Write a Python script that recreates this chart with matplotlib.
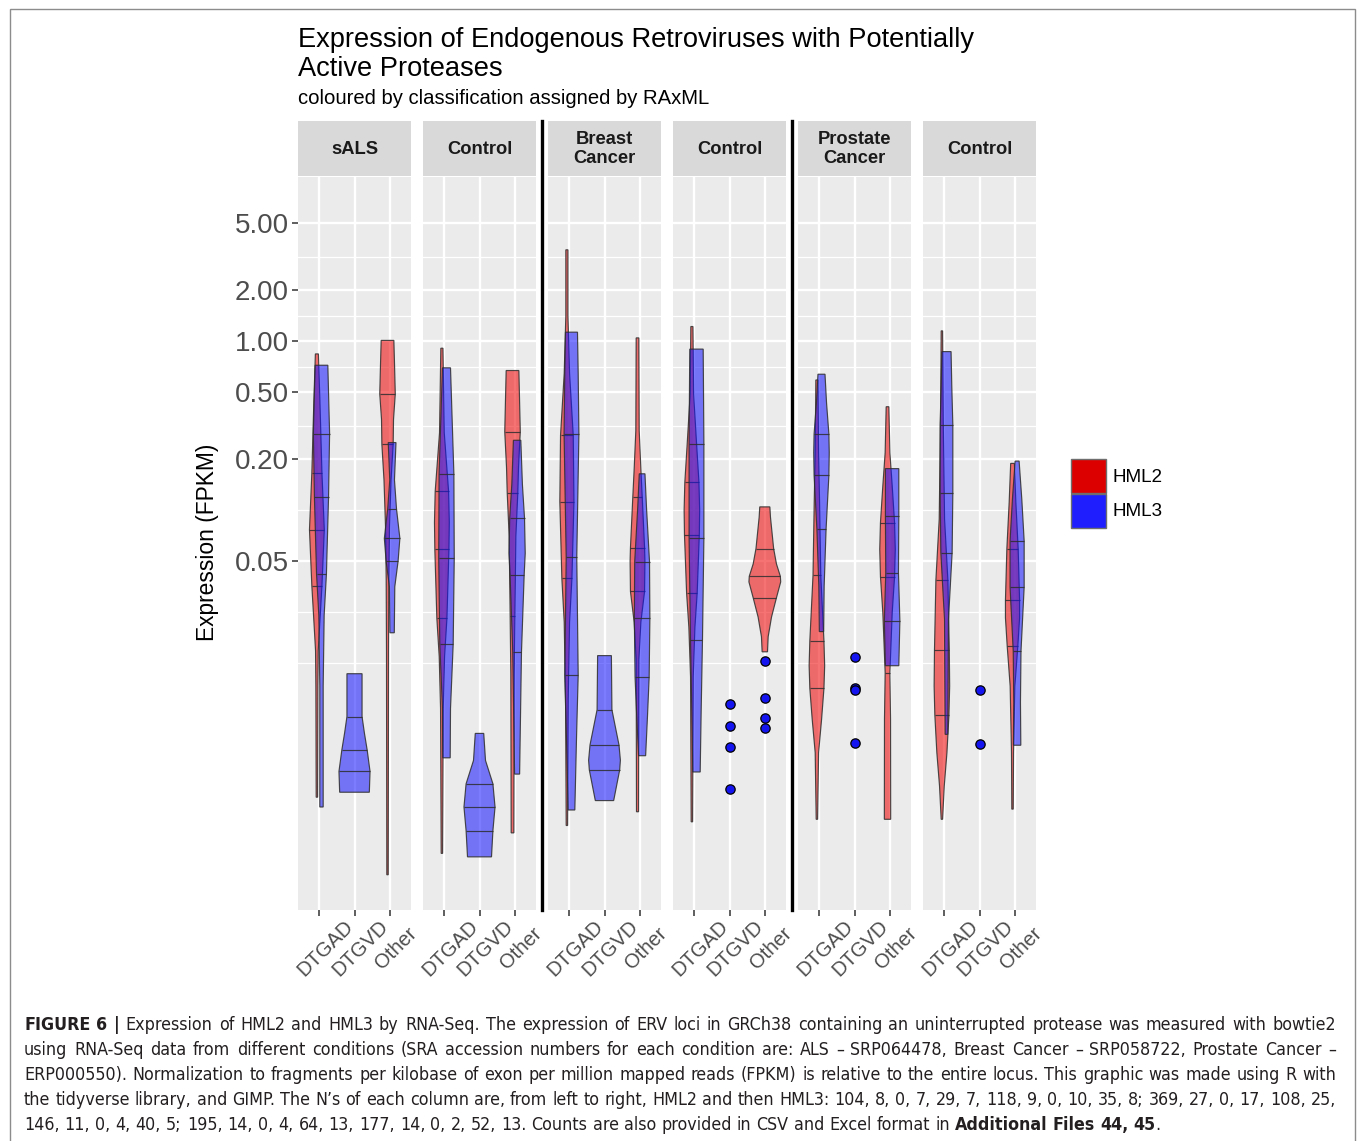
import os
import numpy as np
import matplotlib
matplotlib.use("Agg")
import matplotlib.pyplot as plt
from matplotlib.patches import Polygon, Rectangle
from matplotlib.lines import Line2D
from matplotlib.colors import to_rgb
from matplotlib import font_manager
from matplotlib.font_manager import FontProperties

# ---------------- data ----------------
PANELS = ["sALS", "Control", "Breast\nCancer", "Control", "Prostate\nCancer", "Control"]
CATEGORIES = ["DTGAD", "DTGVD", "Other"]
GROUPS = ["HML2", "HML3"]
Y_BREAKS = [5, 2, 1, 0.5, 0.2, 0.05]
Y_LABELS = ["5.00", "2.00", "1.00", "0.50", "0.20", "0.05"]
Y_MINOR = [3.162, 1.414, 0.7071, 0.3162, 0.1, 0.025, 0.0125]
Y_LIMITS = [0.00043, 9.36]

# violin outlines: (FPKM, relative density width), top -> bottom
# quantile lines: [q25, median, q75]
ALS_DTGAD_HML2 = [(0.84, 0.043), (0.44, 0.086), (0.166, 0.143), (0.0766, 0.21), (0.0356, 0.143),
                  (0.0239, 0.095), (0.0147, 0.038), (0.0091, 0.029), (0.0020, 0.02)]
ALS_DTGAD_HML2_Q = [0.0356, 0.0766, 0.166]
ALS_DTGAD_HML3 = [(0.72, 0.18), (0.284, 0.23), (0.119, 0.2), (0.0418, 0.14), (0.0239, 0.076),
                  (0.0091, 0.048), (0.00175, 0.048)]
ALS_DTGAD_HML3_Q = [0.0418, 0.119, 0.284]
ALS_DTGVD_HML3 = [(0.01076, 0.214), (0.0060, 0.214), (0.0048, 0.28), (0.00379, 0.36),
                  (0.00284, 0.44), (0.00214, 0.42)]
ALS_DTGVD_HML3_Q = [0.00284, 0.00379, 0.0060]
ALS_OTHER_HML2 = [(1.01, 0.18), (0.71, 0.2), (0.487, 0.22), (0.344, 0.17), (0.245, 0.16), (0.151, 0.1),
                  (0.080, 0.057), (0.039, 0.038), (0.0147, 0.029), (0.000695, 0.02)]
ALS_OTHER_HML2_Q = [0.068, 0.245, 0.487]
ALS_OTHER_HML3 = [(0.251, 0.11), (0.151, 0.067), (0.102, 0.124), (0.068, 0.22), (0.05, 0.17),
                  (0.0352, 0.076), (0.0188, 0.062)]
ALS_OTHER_HML3_Q = [0.05, 0.068, 0.102]

ALSCTL_DTGAD_HML2 = [(0.908, 0.03), (0.287, 0.067), (0.129, 0.19), (0.0848, 0.21), (0.0586, 0.2),
                     (0.0229, 0.143), (0.0136, 0.076), (0.0067, 0.038), (0.00093, 0.02)]
ALSCTL_DTGAD_HML2_Q = [0.0229, 0.0586, 0.129]
ALSCTL_DTGAD_HML3 = [(0.695, 0.114), (0.163, 0.21), (0.052, 0.22), (0.0161, 0.19), (0.0067, 0.114),
                     (0.00342, 0.105)]
ALSCTL_DTGAD_HML3_Q = [0.0161, 0.052, 0.163]
ALSCTL_DTGVD_HML3 = [(0.00477, 0.12), (0.0033, 0.17), (0.0024, 0.38), (0.00175, 0.44),
                     (0.00127, 0.38), (0.000887, 0.34)]
ALSCTL_DTGVD_HML3_Q = [0.00127, 0.00175, 0.0024]
ALSCTL_OTHER_HML2 = [(0.67, 0.18), (0.291, 0.22), (0.179, 0.17), (0.126, 0.15), (0.070, 0.095),
                     (0.0236, 0.067), (0.0107, 0.048), (0.00123, 0.038)]
ALSCTL_OTHER_HML2_Q = [0.0236, 0.126, 0.291]
ALSCTL_OTHER_HML3 = [(0.259, 0.105), (0.142, 0.15), (0.0895, 0.21), (0.0555, 0.23), (0.0414, 0.2),
                     (0.0145, 0.124), (0.00274, 0.071)]
ALSCTL_OTHER_HML3_Q = [0.0145, 0.0414, 0.0895]

BRCA_DTGAD_HML2 = [(3.47, 0.03), (1.41, 0.03), (0.645, 0.076), (0.277, 0.18), (0.112, 0.2),
                   (0.0395, 0.143), (0.0217, 0.076), (0.00763, 0.038), (0.00136, 0.02)]
BRCA_DTGAD_HML2_Q = [0.0395, 0.112, 0.277]
BRCA_DTGAD_HML3 = [(1.13, 0.17), (0.645, 0.19), (0.283, 0.21), (0.0527, 0.15), (0.01055, 0.19),
                   (0.00453, 0.143), (0.00168, 0.095)]
BRCA_DTGAD_HML3_Q = [0.01055, 0.0527, 0.283]
BRCA_DTGVD_HML3 = [(0.01377, 0.195), (0.00659, 0.21), (0.00408, 0.41), (0.00331, 0.45),
                   (0.0029, 0.43), (0.00191, 0.26)]
BRCA_DTGVD_HML3_Q = [0.0029, 0.00408, 0.00659]
BRCA_OTHER_HML2 = [(1.045, 0.038), (0.295, 0.048), (0.175, 0.095), (0.12, 0.133), (0.06, 0.2),
                   (0.05, 0.21), (0.033, 0.2), (0.0217, 0.095), (0.0129, 0.038), (0.00164, 0.029)]
BRCA_OTHER_HML2_Q = [0.033, 0.06, 0.12]
BRCA_OTHER_HML3 = [(0.164, 0.081), (0.104, 0.124), (0.0494, 0.21), (0.0229, 0.22), (0.0103, 0.2),
                   (0.00588, 0.15), (0.00352, 0.1)]
BRCA_OTHER_HML3_Q = [0.0103, 0.0229, 0.0494]

BRCTL_DTGAD_HML2 = [(1.22, 0.03), (0.489, 0.048), (0.247, 0.133), (0.146, 0.2), (0.1, 0.22),
                    (0.0713, 0.21), (0.0323, 0.15), (0.0203, 0.086), (0.0103, 0.038), (0.00143, 0.02)]
BRCTL_DTGAD_HML2_Q = [0.0323, 0.0713, 0.146]
BRCTL_DTGAD_HML3 = [(0.897, 0.19), (0.247, 0.21), (0.0687, 0.21), (0.0171, 0.17), (0.00653, 0.133),
                    (0.00282, 0.105)]
BRCTL_DTGAD_HML3_Q = [0.0171, 0.0687, 0.247]
BRCTL_DTGVD_HML3_PTS = [0.00716, 0.00528, 0.00397, 0.00223]
BRCTL_OTHER_HML2 = [(0.1045, 0.143), (0.091, 0.16), (0.0592, 0.25), (0.048, 0.33), (0.0406, 0.44),
                    (0.0376, 0.45), (0.0303, 0.33), (0.0233, 0.19), (0.0178, 0.095), (0.0145, 0.076)]
BRCTL_OTHER_HML2_Q = [0.0303, 0.0406, 0.0592]
BRCTL_OTHER_HML3_PTS = [0.0128, 0.00773, 0.00592, 0.00516]

PRCA_DTGAD_HML2 = [(0.589, 0.03), (0.219, 0.048), (0.111, 0.076), (0.0411, 0.11), (0.0168, 0.2),
                   (0.012, 0.22), (0.00883, 0.2), (0.00578, 0.133), (0.00367, 0.048), (0.00148, 0.02)]
PRCA_DTGAD_HML2_Q = [0.00883, 0.0168, 0.0411]
PRCA_DTGAD_HML3 = [(0.637, 0.1), (0.432, 0.143), (0.281, 0.21), (0.219, 0.22), (0.161, 0.21),
                   (0.0769, 0.13), (0.0356, 0.076), (0.0191, 0.062)]
PRCA_DTGAD_HML3_Q = [0.0769, 0.161, 0.281]
PRCA_DTGVD_HML3_PTS = [0.01352, 0.0088, 0.0086, 0.00417]
PRCA_OTHER_HML2 = [(0.409, 0.038), (0.219, 0.067), (0.139, 0.133), (0.0843, 0.2), (0.0586, 0.22),
                   (0.0404, 0.2), (0.0247, 0.133), (0.0109, 0.067), (0.00578, 0.086), (0.00148, 0.09)]
PRCA_OTHER_HML2_Q = [0.0109, 0.0404, 0.0843]
PRCA_OTHER_HML3 = [(0.176, 0.19), (0.0923, 0.19), (0.0427, 0.18), (0.0221, 0.22), (0.012, 0.19)]
PRCA_OTHER_HML3_Q = [0.0221, 0.0427, 0.0923]

PRCTL_DTGAD_HML2 = [(1.15, 0.02), (0.344, 0.038), (0.0883, 0.076), (0.0386, 0.17), (0.0148, 0.21),
                    (0.0091, 0.22), (0.00614, 0.2), (0.00367, 0.143), (0.00233, 0.067), (0.00148, 0.02)]
PRCTL_DTGAD_HML2_Q = [0.00614, 0.0148, 0.0386]
PRCTL_DTGAD_HML3 = [(0.867, 0.13), (0.543, 0.15), (0.319, 0.18), (0.127, 0.18), (0.056, 0.16),
                    (0.0226, 0.057), (0.00471, 0.038)]
PRCTL_DTGAD_HML3_Q = [0.056, 0.127, 0.319]
PRCTL_DTGVD_HML3_PTS = [0.00859, 0.00415]
PRCTL_OTHER_HML2 = [(0.189, 0.052), (0.111, 0.095), (0.0592, 0.16), (0.0294, 0.2), (0.023, 0.2),
                    (0.0156, 0.15), (0.0091, 0.067), (0.00367, 0.029), (0.0017, 0.02)]
PRCTL_OTHER_HML2_Q = [0.0156, 0.0294, 0.0592]
PRCTL_OTHER_HML3 = [(0.195, 0.057), (0.116, 0.133), (0.0656, 0.2), (0.0351, 0.2), (0.0146, 0.11),
                    (0.0073, 0.095), (0.00406, 0.105)]
PRCTL_OTHER_HML3_Q = [0.0146, 0.0351, 0.0656]

VIOLINS = [
    (0, "DTGAD", "HML2", ALS_DTGAD_HML2, ALS_DTGAD_HML2_Q),
    (0, "DTGAD", "HML3", ALS_DTGAD_HML3, ALS_DTGAD_HML3_Q),
    (0, "DTGVD", "HML3", ALS_DTGVD_HML3, ALS_DTGVD_HML3_Q),
    (0, "Other", "HML2", ALS_OTHER_HML2, ALS_OTHER_HML2_Q),
    (0, "Other", "HML3", ALS_OTHER_HML3, ALS_OTHER_HML3_Q),
    (1, "DTGAD", "HML2", ALSCTL_DTGAD_HML2, ALSCTL_DTGAD_HML2_Q),
    (1, "DTGAD", "HML3", ALSCTL_DTGAD_HML3, ALSCTL_DTGAD_HML3_Q),
    (1, "DTGVD", "HML3", ALSCTL_DTGVD_HML3, ALSCTL_DTGVD_HML3_Q),
    (1, "Other", "HML2", ALSCTL_OTHER_HML2, ALSCTL_OTHER_HML2_Q),
    (1, "Other", "HML3", ALSCTL_OTHER_HML3, ALSCTL_OTHER_HML3_Q),
    (2, "DTGAD", "HML2", BRCA_DTGAD_HML2, BRCA_DTGAD_HML2_Q),
    (2, "DTGAD", "HML3", BRCA_DTGAD_HML3, BRCA_DTGAD_HML3_Q),
    (2, "DTGVD", "HML3", BRCA_DTGVD_HML3, BRCA_DTGVD_HML3_Q),
    (2, "Other", "HML2", BRCA_OTHER_HML2, BRCA_OTHER_HML2_Q),
    (2, "Other", "HML3", BRCA_OTHER_HML3, BRCA_OTHER_HML3_Q),
    (3, "DTGAD", "HML2", BRCTL_DTGAD_HML2, BRCTL_DTGAD_HML2_Q),
    (3, "DTGAD", "HML3", BRCTL_DTGAD_HML3, BRCTL_DTGAD_HML3_Q),
    (3, "Other", "HML2", BRCTL_OTHER_HML2, BRCTL_OTHER_HML2_Q),
    (4, "DTGAD", "HML2", PRCA_DTGAD_HML2, PRCA_DTGAD_HML2_Q),
    (4, "DTGAD", "HML3", PRCA_DTGAD_HML3, PRCA_DTGAD_HML3_Q),
    (4, "Other", "HML2", PRCA_OTHER_HML2, PRCA_OTHER_HML2_Q),
    (4, "Other", "HML3", PRCA_OTHER_HML3, PRCA_OTHER_HML3_Q),
    (5, "DTGAD", "HML2", PRCTL_DTGAD_HML2, PRCTL_DTGAD_HML2_Q),
    (5, "DTGAD", "HML3", PRCTL_DTGAD_HML3, PRCTL_DTGAD_HML3_Q),
    (5, "Other", "HML2", PRCTL_OTHER_HML2, PRCTL_OTHER_HML2_Q),
    (5, "Other", "HML3", PRCTL_OTHER_HML3, PRCTL_OTHER_HML3_Q),
]
POINTS = [
    (3, "DTGVD", BRCTL_DTGVD_HML3_PTS),
    (3, "Other", BRCTL_OTHER_HML3_PTS),
    (4, "DTGVD", PRCA_DTGVD_HML3_PTS),
    (5, "DTGVD", PRCTL_DTGVD_HML3_PTS),
]

TITLE_1 = "Expression of Endogenous Retroviruses with Potentially"
TITLE_2 = "Active Proteases"
SUBTITLE = "coloured by classification assigned by RAxML"
YLABEL = "Expression (FPKM)"
CAPTION_LINES = [
    [("FIGURE 6 |", True), ("Expression of HML2 and HML3 by RNA-Seq. The expression of ERV loci in GRCh38 "
                           "containing an uninterrupted protease was measured with bowtie2", False)],
    [("using RNA-Seq data from different conditions (SRA accession numbers for each condition are: ALS \u2013 "
      "SRP064478, Breast Cancer \u2013 SRP058722, Prostate Cancer \u2013", False)],
    [("ERP000550). Normalization to fragments per kilobase of exon per million mapped reads (FPKM) is relative "
      "to the entire locus. This graphic was made using R with", False)],
    [("the tidyverse library, and GIMP. The N\u2019s of each column are, from left to right, HML2 and then HML3: "
      "104, 8, 0, 7, 29, 7, 118, 9, 0, 10, 35, 8; 369, 27, 0, 17, 108, 25,", False)],
    [("146, 11, 0, 4, 40, 5; 195, 14, 0, 4, 64, 13, 177, 14, 0, 2, 52, 13. Counts are also provided in CSV "
      "and Excel format in", False), ("Additional Files 44, 45", True)],
]

# ---------------- style / layout ----------------
W, H = 1358, 1141
FONT = "Liberation Sans"
COLORS = {"HML2": "#F00000", "HML3": "#1010FF"}
LEGEND_COLORS = {"HML2": "#DD0000", "HML3": "#1E1EFF"}
ALPHA = 0.55
EDGE = (0.18, 0.18, 0.18, 0.85)
PANEL_X = [(298, 411), (423, 536), (548, 661), (673, 786), (798, 911), (923, 1036)]
PANEL_TOP, PANEL_BOT, STRIP_TOP = 177, 910, 121
DODGE = 0.065


def find_condensed():
    files = [f.fname for f in font_manager.fontManager.ttflist]
    prefs = [("LiberationSansNarrow-Regular", "LiberationSansNarrow-Bold"),
             ("DejaVuSansCondensed.", "DejaVuSansCondensed-Bold."),
             ("NotoSans-Condensed.", "NotoSans-CondensedBold."),
             ("OpenSans_Condensed-Regular", "OpenSans_Condensed-Bold")]
    for reg, bold in prefs:
        r = [p for p in files if reg in os.path.basename(p)]
        b = [p for p in files if bold in os.path.basename(p)]
        if r:
            return r[0], (b[0] if b else r[0])
    return None, None


CAP_REG, CAP_BOLD = find_condensed()


def cap_fp(bold, size):
    path = CAP_BOLD if bold else CAP_REG
    if path:
        return FontProperties(fname=path, size=size)
    return FontProperties(family=FONT, weight="bold" if bold else "normal", size=size)


fig = plt.figure(figsize=(W / 100, H / 100), dpi=100)
fig.patch.set_facecolor("white")


def frac_rect(x0, y0, x1, y1):
    return [x0 / W, 1 - y1 / H, (x1 - x0) / W, (y1 - y0) / H]


def draw_violin(ax, xc, prof, q, color, z):
    ys = np.array([p[0] for p in prof], dtype=float)
    ws = np.array([p[1] for p in prof], dtype=float)
    left = np.column_stack([xc - ws, ys])
    right = np.column_stack([xc + ws, ys])[::-1]
    verts = np.vstack([left, right])
    ax.add_patch(Polygon(verts, closed=True, facecolor=(*to_rgb(color), ALPHA),
                         edgecolor=EDGE, lw=0.85, zorder=z))
    ly = np.log10(ys)
    for qq in q:
        w = np.interp(np.log10(qq), ly[::-1], ws[::-1])
        ax.plot([xc - w, xc + w], [qq, qq], color=EDGE, lw=0.85, zorder=z + 0.01,
                solid_capstyle="butt")


present = {}
for p, c, g, _, _ in VIOLINS:
    present.setdefault((p, c), set()).add(g)

axes = []
for i, (x0, x1) in enumerate(PANEL_X):
    ax = fig.add_axes(frac_rect(x0, PANEL_TOP, x1, PANEL_BOT))
    ax.set_facecolor("#EBEBEB")
    ax.set_yscale("log")
    ax.set_ylim(*Y_LIMITS)
    ax.set_xlim(0.4, 3.6)
    for s in ax.spines.values():
        s.set_visible(False)
    ax.set_xticks([1, 2, 3])
    ax.set_xticklabels([])
    ax.tick_params(axis="x", length=4.5, width=1.1, color="#333333")
    ax.set_yticks(Y_BREAKS)
    ax.set_yticks(Y_MINOR, minor=True)
    ax.yaxis.set_minor_formatter(matplotlib.ticker.NullFormatter())
    ax.tick_params(axis="y", which="minor", length=0)
    if i == 0:
        ax.set_yticklabels(Y_LABELS, fontsize=20, color="#4D4D4D", family=FONT)
        ax.tick_params(axis="y", which="major", length=4.5, width=1.1, color="#333333", pad=2)
    else:
        ax.set_yticklabels([])
        ax.tick_params(axis="y", which="major", length=0)
    ax.set_axisbelow(True)
    ax.grid(True, which="major", color="white", lw=1.7)
    ax.grid(True, which="minor", axis="y", color="white", lw=0.9)
    axes.append(ax)

    # strip
    sax = fig.add_axes(frac_rect(x0, STRIP_TOP, x1, PANEL_TOP - 1))
    sax.set_facecolor("#D9D9D9")
    sax.set_xticks([]); sax.set_yticks([])
    for s in sax.spines.values():
        s.set_visible(False)
    sax.text(0.5, 0.49, PANELS[i], ha="center", va="center", fontsize=13.2, fontweight="bold",
             color="#1A1A1A", family=FONT, linespacing=1.1, transform=sax.transAxes)

    # rotated x labels
    for k, cat in enumerate(CATEGORIES):
        xpx = x0 + (k + 1 - 0.4) / 3.2 * (x1 - x0) + 6
        fig.text(xpx / W, 1 - 948 / H, cat, rotation=45, ha="center", va="center",
                 fontsize=14.5, color="#4D4D4D", family=FONT, rotation_mode="anchor")

zc = 3.0
for p, c, g, prof, q in VIOLINS:
    xc = CATEGORIES.index(c) + 1
    if len(present[(p, c)]) == 2:
        xc += -DODGE if g == "HML2" else DODGE
    draw_violin(axes[p], xc, prof, q, COLORS[g], zc)
    zc += 0.02

for p, c, pts in POINTS:
    xc = CATEGORIES.index(c) + 1
    axes[p].scatter([xc] * len(pts), pts, s=45, facecolor="#1414F0", edgecolor="black",
                    lw=0.9, zorder=6)

# black separator lines
for xs in (542, 792):
    fig.add_artist(Line2D([xs / W, xs / W], [1 - STRIP_TOP / H, 1 - PANEL_BOT / H],
                          color="black", lw=2.4, transform=fig.transFigure))

# titles
fig.text(298 / W, 1 - 47 / H, TITLE_1, fontsize=19.6, family=FONT, va="baseline", ha="left")
fig.text(298 / W, 1 - 76 / H, TITLE_2, fontsize=19.6, family=FONT, va="baseline", ha="left")
fig.text(298 / W, 1 - 104 / H, SUBTITLE, fontsize=14.6, family=FONT, va="baseline", ha="left")
fig.text(207 / W, 1 - 542 / H, YLABEL, rotation=90, fontsize=16.4, family=FONT, ha="center", va="center")

# legend
for k, g in enumerate(GROUPS):
    y0 = 459 + k * 35
    fig.add_artist(Rectangle((1071 / W, 1 - (y0 + 34) / H), 35 / W, 34 / H, transform=fig.transFigure,
                             facecolor=LEGEND_COLORS[g], edgecolor="#6E6E6E", lw=1.0))
    fig.text(1112 / W, 1 - (y0 + 18) / H, g, fontsize=13.6, family=FONT, va="center", ha="left")

# border
fig.add_artist(Rectangle((10 / W, -0.01), 1345 / W, 1 - 9 / H + 0.01, transform=fig.transFigure,
                         facecolor="none", edgecolor="#8C8C8C", lw=1.0))

# caption, justified lines
renderer = fig.canvas.get_renderer()
LEFT, RIGHT = 24, 1336


def measure(s, bold, size):
    t = fig.text(0, 0, s, fontproperties=cap_fp(bold, size))
    w = t.get_window_extent(renderer).width
    t.remove()
    return w


def split_words(li, segs):
    words = []
    for s, b in segs:
        for wd in s.split(" "):
            if wd:
                words.append((wd, b))
    if li == len(CAPTION_LINES) - 1:
        words.append((".", False))
    return words


cap_size = 13.6
sw0 = measure("a a", False, cap_size) - measure("aa", False, cap_size)
natural = []
for li, segs in enumerate(CAPTION_LINES[:-1]):
    ws_ = [measure(wd, b, cap_size) for wd, b in split_words(li, segs)]
    natural.append(sum(ws_) + sw0 * (len(ws_) - 1))
fit = (RIGHT - LEFT) * 0.995 / max(natural)
cap_size = min(cap_size, cap_size * fit)
space_w = measure("a a", False, cap_size) - measure("aa", False, cap_size)

for li, segs in enumerate(CAPTION_LINES):
    words = split_words(li, segs)
    widths = [measure(wd, b, cap_size) for wd, b in words]
    ybase = 1030 + li * 25
    justify = li < len(CAPTION_LINES) - 1
    gap = (RIGHT - LEFT - sum(widths)) / (len(words) - 1) if justify else space_w
    x = LEFT
    for j, ((wd, b), w) in enumerate(zip(words, widths)):
        if wd == "." and not justify and j == len(words) - 1:
            x -= gap
        fig.text(x / W, 1 - ybase / H, wd, fontproperties=cap_fp(b, cap_size),
                 va="baseline", ha="left", color="#231F20")
        x += w + gap

fig.savefig("out.png", dpi=100, facecolor="white")
